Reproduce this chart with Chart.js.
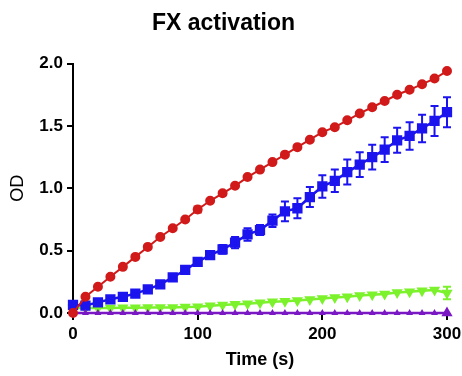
<!DOCTYPE html>
<html><head><meta charset="utf-8">
<script src="https://cdn.jsdelivr.net/npm/chart.js@4"></script>
<style>html,body{margin:0;padding:0;background:#fff}#c{display:block}</style>
</head><body>
<canvas id="c" width="462" height="376"></canvas>
<script>
const times = [0,10,20,30,40,50,60,70,80,90,100,110,120,130,140,150,160,170,180,190,200,210,220,230,240,250,260,270,280,290,300];
const redOD = [0,0.13,0.21,0.29,0.37,0.45,0.53,0.61,0.68,0.75,0.83,0.90,0.96,1.02,1.09,1.15,1.21,1.27,1.33,1.39,1.45,1.49,1.545,1.60,1.65,1.70,1.75,1.79,1.835,1.88,1.94];
const redErr = [0,0,0,0,0,0,0,0,0,0,0.025,0,0.015,0,0,0,0,0,0,0,0,0,0,0,0,0,0,0,0,0,0];
const blueOD = [0.065,0.06,0.085,0.11,0.13,0.155,0.19,0.23,0.285,0.345,0.41,0.465,0.51,0.565,0.63,0.665,0.74,0.815,0.84,0.93,1.015,1.06,1.13,1.19,1.25,1.31,1.385,1.42,1.48,1.54,1.61];
const blueErr = [0.01,0.01,0.01,0.015,0.015,0.015,0.02,0.02,0.02,0.025,0.03,0.03,0.035,0.045,0.05,0.04,0.05,0.08,0.08,0.08,0.09,0.09,0.10,0.10,0.10,0.10,0.10,0.11,0.11,0.12,0.12];
const greenOD = [0.04,0.04,0.04,0.04,0.042,0.042,0.045,0.045,0.045,0.048,0.05,0.058,0.065,0.07,0.075,0.083,0.09,0.095,0.10,0.108,0.117,0.125,0.13,0.14,0.147,0.152,0.165,0.17,0.178,0.185,0.16];
const greenErr = [0,0,0,0,0,0,0,0,0,0,0,0,0,0,0,0,0,0,0,0,0,0,0,0,0,0,0,0,0,0,0.05];
const purpleOD = [0,0,0,0,0,0,0,0,0,0,0,0,0,0,0,0,0,0,0,0,0,0,0,0,0,0,0,0,0,0,0];
const yTicks = [0, 0.5, 1.0, 1.5, 2.0];
const xTicks = [0, 100, 200, 300];

const pts = arr => times.map((t, i) => ({x: t, y: arr[i]}));

const errorBars = {
  id: 'errorBars',
  afterDatasetDraw(chart, args) {
    const ds = chart.data.datasets[args.index];
    if (!ds.errors) return;
    const ctx = chart.ctx, xs = chart.scales.x, ys = chart.scales.y;
    ctx.save();
    ctx.strokeStyle = ds.borderColor;
    ctx.lineWidth = 2;
    ds.data.forEach((p, i) => {
      const e = ds.errors[i];
      if (!e) return;
      const px = xs.getPixelForValue(p.x);
      const t = ys.getPixelForValue(p.y + e);
      const b = ys.getPixelForValue(p.y - e);
      const cap = 4;
      ctx.beginPath();
      ctx.moveTo(px, t); ctx.lineTo(px, b);
      ctx.moveTo(px - cap, t); ctx.lineTo(px + cap, t);
      ctx.moveTo(px - cap, b); ctx.lineTo(px + cap, b);
      ctx.stroke();
    });
    ctx.restore();
  }
};

const FONT = "'Liberation Sans', Arial, Helvetica, sans-serif";
Chart.defaults.font.family = FONT;
Chart.defaults.color = '#000';

new Chart(document.getElementById('c'), {
  type: 'line',
  data: {
    datasets: [
      {label: 'red', data: pts(redOD), errors: redErr, borderColor: '#d11a1a', backgroundColor: '#d11a1a', borderWidth: 2, pointStyle: 'circle', pointRadius: 4, pointHoverRadius: 4},
      {label: 'purple', data: pts(purpleOD), borderColor: '#7a18c4', backgroundColor: '#7a18c4', borderWidth: 2.5, pointStyle: 'triangle', pointRadius: ctx => ctx.dataIndex === times.length - 1 ? 4 : 1.5, pointHoverRadius: 1.5},
      {label: 'blue', data: pts(blueOD), errors: blueErr, borderColor: '#1c14ee', backgroundColor: '#1c14ee', borderWidth: 2.5, pointStyle: 'rect', pointRadius: 5.5, pointHoverRadius: 5.5},
      {label: 'green', data: pts(greenOD), errors: greenErr, borderColor: '#7cf22c', backgroundColor: '#7cf22c', borderWidth: 2.5, pointStyle: 'triangle', rotation: 180, pointRadius: 4, pointHoverRadius: 4}
    ]
  },
  options: {
    responsive: false,
    animation: false,
    devicePixelRatio: 1,
    clip: false,
    layout: {padding: {left: 0, right: 15, top: 0, bottom: 0}},
    elements: {line: {tension: 0}},
    plugins: {
      legend: {display: false},
      tooltip: {enabled: false},
      title: {display: true, text: 'FX activation', color: '#000', font: {family: FONT, size: 23, weight: 'bold'}, padding: {top: 10, bottom: 26}}
    },
    scales: {
      x: {
        type: 'linear', min: 0, max: 300,
        afterBuildTicks: s => { s.ticks = xTicks.map(v => ({value: v})); },
        afterFit: s => { s.height = 63; s.paddingLeft = 0; s.paddingRight = 0; },
        ticks: {font: {family: FONT, size: 17, weight: 'bold'}, color: '#000', padding: 4, maxRotation: 0},
        grid: {drawOnChartArea: false, drawTicks: true, tickLength: 7, color: '#000', lineWidth: 2},
        border: {display: true, color: '#000', width: 2},
        title: {display: true, text: 'Time (s)', color: '#000', font: {family: FONT, size: 18, weight: 'bold'}, padding: {top: 0, bottom: 5}}
      },
      y: {
        type: 'linear', min: 0, max: 2.0,
        afterBuildTicks: s => { s.ticks = yTicks.map(v => ({value: v})); },
        afterFit: s => { s.width = 73; s.paddingTop = 0; s.paddingBottom = 0; },
        ticks: {font: {family: FONT, size: 17, weight: 'bold'}, color: '#000', padding: 4, callback: v => Number(v).toFixed(1)},
        grid: {drawOnChartArea: false, drawTicks: true, tickLength: 6, color: '#000', lineWidth: 2},
        border: {display: true, color: '#000', width: 2},
        title: {display: true, text: 'OD', color: '#000', font: {family: FONT, size: 18, weight: 'normal'}, padding: {top: 7, bottom: 0}}
      }
    }
  },
  plugins: [errorBars]
});
</script>
</body></html>
